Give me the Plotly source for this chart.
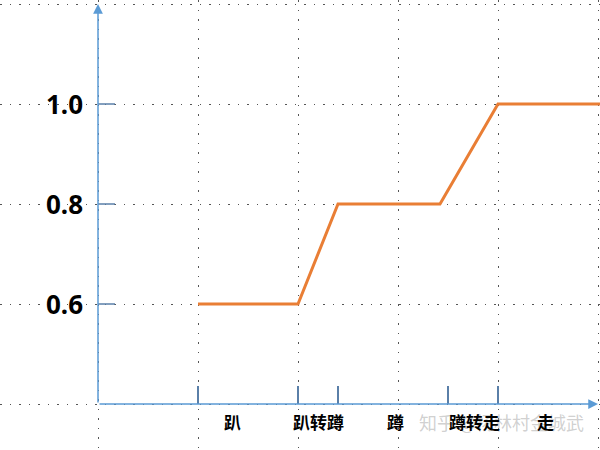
import plotly.graph_objects as go

# Data
line_x = [1.0, 2.0, 2.4, 3.42, 4.0, 5.05]
line_y = [0.6, 0.6, 0.8, 0.8, 1.0, 1.0]
x_tick_positions = [1.0, 2.0, 2.4, 3.5, 4.0]
category_labels = ["趴", "趴转蹲", "蹲", "蹲转走", "走"]
category_positions = [1.34, 2.2, 2.97, 3.76, 4.47]
y_tick_values = [0.6, 0.8, 1.0]
y_tick_labels = ["0.6", "0.8", "1.0"]
watermark = "知乎 @杨林村金城武"

AXIS = "#5b9bd5"
TICK = "#5a7fa8"
ORANGE = "#e97e35"
GRID = "#555555"

fig = go.Figure()
fig.add_trace(go.Scatter(x=line_x, y=line_y, mode="lines",
                         line=dict(color=ORANGE, width=3), hoverinfo="skip",
                         showlegend=False))

shapes = []
# x-axis ticks
for xv in x_tick_positions:
    shapes.append(dict(type="line", xref="x", yref="y", x0=xv, x1=xv,
                       y0=0.4, y1=0.436, line=dict(color=TICK, width=2)))
# y-axis major ticks
for yv in y_tick_values:
    shapes.append(dict(type="line", xref="x", yref="y", x0=0, x1=0.17,
                       y0=yv, y1=yv, line=dict(color=TICK, width=1.5)))

annotations = []
# watermark (behind labels)
annotations.append(dict(x=4.88, y=0.364, xref="x", yref="y", text=watermark,
                        showarrow=False, xanchor="right", yanchor="middle",
                        font=dict(size=18, color="rgba(150,150,150,0.45)",
                                  family="Noto Sans CJK SC")))
# axes with arrows
annotations.append(dict(x=5.0, y=0.4, ax=0, ay=0.4, xref="x", yref="y",
                        axref="x", ayref="y", showarrow=True, arrowhead=2,
                        arrowsize=1.3, arrowwidth=1.5, arrowcolor=AXIS, text=""))
annotations.append(dict(x=0, y=1.2, ax=0, ay=0.4, xref="x", yref="y",
                        axref="x", ayref="y", showarrow=True, arrowhead=2,
                        arrowsize=1.3, arrowwidth=1.5, arrowcolor=AXIS, text=""))
# y labels
for yv, lab in zip(y_tick_values, y_tick_labels):
    annotations.append(dict(x=0, y=yv, xref="x", yref="y", text="<b>" + lab + "</b>",
                            showarrow=False, xanchor="right", yanchor="middle",
                            xshift=-13, font=dict(size=26, color="black",
                                                  family="Noto Sans, Open Sans, sans-serif")))
# category labels
for xv, lab in zip(category_positions, category_labels):
    annotations.append(dict(x=xv, y=0.366, xref="x", yref="y", text="<b>" + lab + "</b>",
                            showarrow=False, xanchor="center", yanchor="middle",
                            font=dict(size=17, color="black", family="Noto Sans CJK SC")))

fig.update_layout(
    width=600, height=450,
    margin=dict(l=0, r=0, t=0, b=0),
    paper_bgcolor="white", plot_bgcolor="white",
    shapes=shapes, annotations=annotations,
    xaxis=dict(range=[-0.98, 5.02], showticklabels=False, zeroline=False,
               showgrid=True, gridcolor=GRID, griddash="1.5px,8px", gridwidth=1.2,
               tick0=0, dtick=1, ticks="", showline=False),
    yaxis=dict(range=[0.308, 1.208], showticklabels=False, zeroline=False,
               showgrid=True, gridcolor=GRID, griddash="1.5px,8px", gridwidth=1.2,
               tick0=0, dtick=0.2, ticks="", showline=False),
)

fig.write_html("out.html", config={"displayModeBar": False},
               post_script="document.body.style.margin='0';document.body.style.overflow='hidden';")
